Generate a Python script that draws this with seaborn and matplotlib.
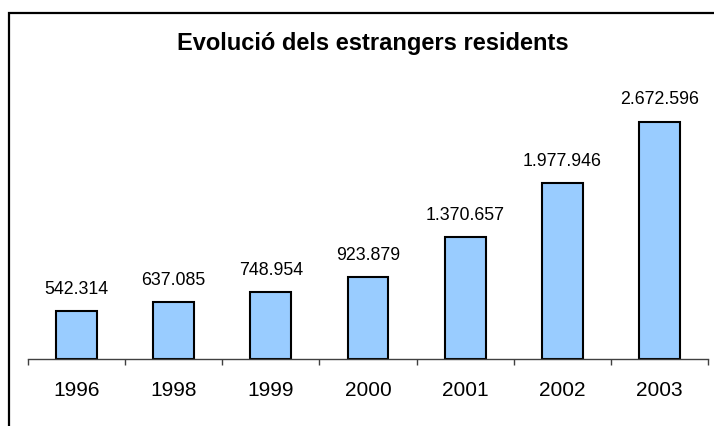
import numpy as np
import pandas as pd
import matplotlib
matplotlib.use("Agg")
import matplotlib.pyplot as plt
from matplotlib.lines import Line2D
import seaborn as sns

# ---- data ----
years = ["1996", "1998", "1999", "2000", "2001", "2002", "2003"]
values = [542314, 637085, 748954, 923879, 1370657, 1977946, 2672596]
value_labels = [f"{v:,}".replace(",", ".") for v in values]
title = "Evolució dels estrangers residents"

sns.set_theme(style="white")
plt.rcParams['font.family'] = ['Liberation Sans', 'DejaVu Sans']

W, H = 714, 426
fig = plt.figure(figsize=(W / 100, H / 100), dpi=100)
fig.patch.set_facecolor("white")

ax = fig.add_axes([28 / W, (H - 359) / H, 680 / W, 279 / H])
df = pd.DataFrame({"year": years, "value": values})
sns.barplot(data=df, x="year", y="value", color="#99CCFF", saturation=1,
            width=0.42, edgecolor="black", linewidth=1.5, ax=ax)

ax.set_xlim(-0.5, len(years) - 0.5)
ax.set_ylim(0, 3.14e6)
ax.set_xlabel("")
ax.set_ylabel("")
ax.set_yticks([])
for s in ["top", "right", "left"]:
    ax.spines[s].set_visible(False)
ax.spines["bottom"].set_color("#404040")
ax.spines["bottom"].set_linewidth(1.0)

ax.set_xticks(range(len(years)))
ax.set_xticklabels(years, fontsize=15, color="black")
ax.tick_params(axis="x", which="major", length=0, pad=16)
ax.set_xticks(np.arange(-0.5, len(years), 1.0), minor=True)
ax.tick_params(axis="x", which="minor", length=4.5, width=1.0,
               color="#404040", direction="out", bottom=True)

ax.bar_label(ax.containers[0], labels=value_labels, padding=9.5,
             fontsize=12.8, color="black")

fig.text(373 / W, 1 - 50 / H, title, ha="center", va="baseline",
         fontsize=17, fontweight="bold", color="black")

# frame (left and top border of the chart area)
fig.add_artist(Line2D([8.5 / W, 8.5 / W, 1.0], [0.0, 1 - 13 / H, 1 - 13 / H],
                      transform=fig.transFigure, color="black", linewidth=1.6,
                      solid_joinstyle="miter"))

fig.savefig("out.png", dpi=100)
